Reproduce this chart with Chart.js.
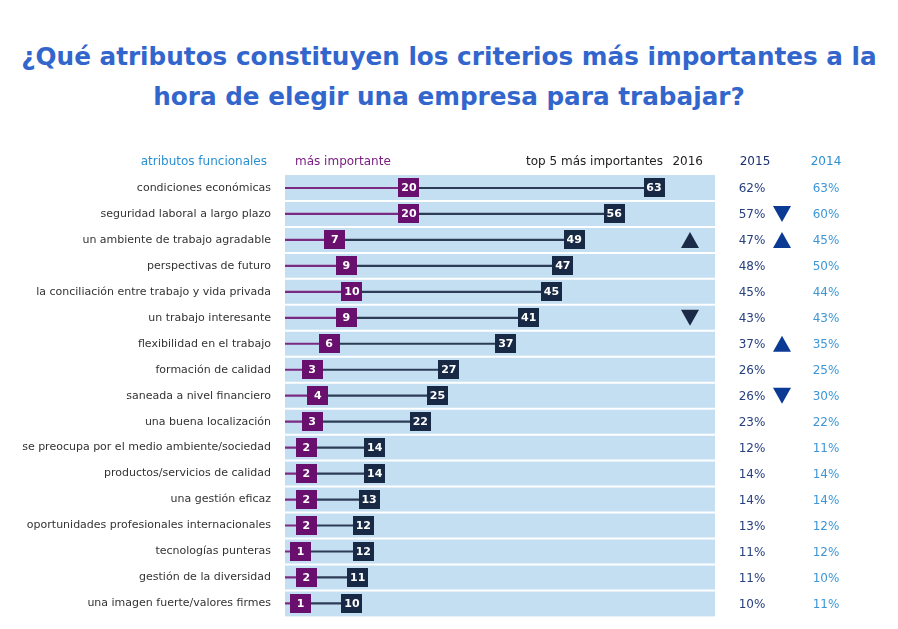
<!DOCTYPE html>
<html><head><meta charset="utf-8">
<script src="https://cdn.jsdelivr.net/npm/chart.js@4/dist/chart.umd.min.js"></script>
<style>
html,body{margin:0;padding:0;background:#fff;width:898px;height:629px;overflow:hidden;}
#wrap{position:relative;width:898px;height:629px;}
#title{position:absolute;left:0;top:37px;width:898px;text-align:center;font-family:"DejaVu Sans",sans-serif;font-weight:bold;font-size:24.7px;line-height:40px;color:#3366cc;}
canvas{position:absolute;left:0;top:0;}
</style></head>
<body><div id="wrap">
<div id="title">¿Qué atributos constituyen los criterios más importantes a la<br>hora de elegir una empresa para trabajar?</div>
<canvas id="c" width="898" height="629"></canvas>
</div>
<script>
const categories = ["condiciones económicas","seguridad laboral a largo plazo","un ambiente de trabajo agradable","perspectivas de futuro","la conciliación entre trabajo y vida privada","un trabajo interesante","flexibilidad en el trabajo","formación de calidad","saneada a nivel financiero","una buena localización","se preocupa por el medio ambiente/sociedad","productos/servicios de calidad","una gestión eficaz","oportunidades profesionales internacionales","tecnologías punteras","gestión de la diversidad","una imagen fuerte/valores firmes"];
const mostImportant = [20,20,7,9,10,9,6,3,4,3,2,2,2,2,1,2,1];
const top5_2016 = [63,56,49,47,45,41,37,27,25,22,14,14,13,12,12,11,10];
const values2015 = [62,57,47,48,45,43,37,26,26,23,12,14,14,13,11,11,10];
const values2014 = [63,60,45,50,44,43,35,25,30,22,11,14,14,12,12,10,11];
const trend2016 = [0,0,1,0,0,-1,0,0,0,0,0,0,0,0,0,0,0];
const trend2015 = [0,-1,1,0,0,0,1,0,-1,0,0,0,0,0,0,0,0];
const headers = {attr:"atributos funcionales", most:"más importante", top5:"top 5 más importantes", y16:"2016", y15:"2015", y14:"2014"};

const X_MIN = -1.75, X_MAX = 73.7;
const FONT = '"DejaVu Sans", sans-serif';
const PURPLE = '#690f6e', NAVY = '#182945';

const decor = {
  id:'decor',
  beforeDatasetsDraw(chart){
    const {ctx, chartArea:a, scales:{y}} = chart;
    ctx.save();
    ctx.fillStyle = '#c4dff1';
    ctx.fillRect(a.left, a.top, a.right-a.left, a.bottom-a.top);
    ctx.strokeStyle = '#ffffff'; ctx.lineWidth = 2;
    for(let i=1;i<categories.length;i++){
      const yy = (y.getPixelForValue(i-1)+y.getPixelForValue(i))/2;
      ctx.beginPath(); ctx.moveTo(a.left,yy); ctx.lineTo(a.right,yy); ctx.stroke();
    }
    ctx.restore();
  },
  afterDatasetsDraw(chart){
    const {ctx, chartArea:a, scales:{x,y}} = chart;
    ctx.save();
    ctx.textBaseline='middle'; ctx.textAlign='center';
    const box=(v,yy,col)=>{
      const cx=x.getPixelForValue(v);
      ctx.fillStyle=col; ctx.fillRect(Math.round(cx-10.5),Math.round(yy-9.5),21,19);
      ctx.fillStyle='#fff'; ctx.font='bold 11px '+FONT; ctx.fillText(String(v),cx,yy+0.5);
    };
    const tri=(cx,yy,dir,col)=>{
      ctx.fillStyle=col; ctx.beginPath();
      if(dir>0){ctx.moveTo(cx,yy-8);ctx.lineTo(cx+9,yy+8);ctx.lineTo(cx-9,yy+8);}
      else{ctx.moveTo(cx-9,yy-8);ctx.lineTo(cx+9,yy-8);ctx.lineTo(cx,yy+8);}
      ctx.closePath(); ctx.fill();
    };
    categories.forEach((c,i)=>{
      const yy=y.getPixelForValue(i);
      box(top5_2016[i],yy,NAVY);
      box(mostImportant[i],yy,PURPLE);
      if(trend2016[i]) tri(690,yy,trend2016[i],'#1a2a47');
      if(trend2015[i]) tri(782,yy,trend2015[i],'#0b3a94');
      ctx.font='12px '+FONT;
      ctx.fillStyle='#27407f'; ctx.fillText(values2015[i]+'%',752,yy+1);
      ctx.fillStyle='#3d96d6'; ctx.fillText(values2014[i]+'%',826,yy+1);
    });
    const hy=162;
    ctx.font='12px '+FONT;
    ctx.textAlign='right'; ctx.fillStyle='#2a8fd0'; ctx.fillText(headers.attr,267,hy);
    ctx.textAlign='left'; ctx.fillStyle='#7a1f82'; ctx.fillText(headers.most,295,hy);
    ctx.textAlign='right'; ctx.fillStyle='#222'; ctx.fillText(headers.top5,663,hy);
    ctx.fillText(headers.y16,703,hy);
    ctx.textAlign='center'; ctx.fillStyle='#1b2f6e'; ctx.fillText(headers.y15,755,hy);
    ctx.fillStyle='#2a8fd0'; ctx.fillText(headers.y14,826,hy);
    ctx.restore();
  }
};

new Chart(document.getElementById('c'),{
  type:'bar',
  data:{
    labels:categories,
    datasets:[
      {data:mostImportant.map(v=>[X_MIN,v]),backgroundColor:'#7a2a80',barThickness:1.5,grouped:false},
      {data:mostImportant.map((v,i)=>[v,top5_2016[i]]),backgroundColor:'#2d3c56',barThickness:1.5,grouped:false}
    ]
  },
  options:{
    indexAxis:'y',responsive:false,animation:false,
    layout:{padding:{left:0,right:183,top:175,bottom:10}},
    plugins:{legend:{display:false},tooltip:{enabled:false},title:{display:false}},
    scales:{
      x:{display:false,min:X_MIN,max:X_MAX},
      y:{grid:{display:false},border:{display:false},
         ticks:{color:'#333',font:{family:'DejaVu Sans',size:11},padding:6,autoSkip:false},
         afterFit(s){s.width=285;}}
    }
  },
  plugins:[decor]
});
</script>
</body></html>
